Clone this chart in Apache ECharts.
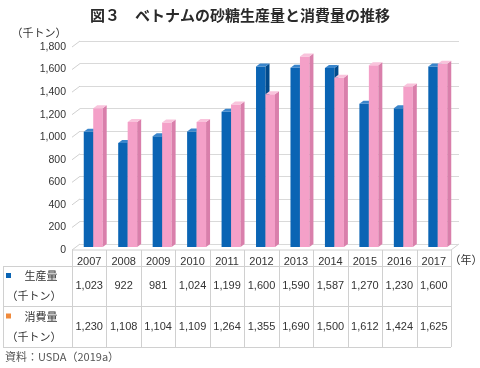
<!DOCTYPE html>
<html><head><meta charset="utf-8">
<script src="https://cdn.jsdelivr.net/npm/echarts@6/dist/echarts.min.js"></script>
<style>html,body{margin:0;padding:0;background:#fff}#c{width:480px;height:368px}</style>
</head><body><div id="c"></div>
<script>
const years = ['2007','2008','2009','2010','2011','2012','2013','2014','2015','2016','2017'];
const production = [1023, 922, 981, 1024, 1199, 1600, 1590, 1587, 1270, 1230, 1600];
const consumption = [1230, 1108, 1104, 1109, 1264, 1355, 1690, 1500, 1612, 1424, 1625];
const yMin = 0, yMax = 1800, yStep = 200;
const titleText = '図３　ベトナムの砂糖生産量と消費量の推移';
const unitText = '（千トン）';
const yearUnit = '（年）';
const rowNames = ['生産量', '消費量'];
const sourceText = '資料：USDA（2019a）';

const FONT = '"Liberation Sans", "Noto Sans CJK JP", sans-serif';
const JFONT = '"Noto Sans CJK JP", sans-serif';
const colors = [
  {front:'#0a64b4', top:'#3a86cc', side:'#004a8c'},
  {front:'#f4a0c8', top:'#f9c3dc', side:'#d97fab'}
];
const DX = 4, DY = -3;

function makeRender(side){
  return function(params, api){
    const i = api.value(0), v = api.value(1);
    const base = api.coord([i, 0]);
    const top = api.coord([i, v]);
    const bw = api.size([1, 0])[0] * 0.275;
    const x0 = side === 0 ? base[0] - bw : base[0];
    const c = colors[side];
    return {type:'group', children:[
      {type:'rect', shape:{x:x0, y:top[1], width:bw, height:base[1]-top[1]}, style:{fill:c.front}},
      {type:'polygon', shape:{points:[[x0+bw, top[1]],[x0+bw+DX, top[1]+DY],[x0+bw+DX, base[1]+DY],[x0+bw, base[1]]]}, style:{fill:c.side}},
      {type:'polygon', shape:{points:[[x0, top[1]],[x0+bw, top[1]],[x0+bw+DX, top[1]+DY],[x0+DX, top[1]+DY]]}, style:{fill:c.top}}
    ]};
  };
}

const chart = echarts.init(document.getElementById('c'), null, {renderer:'canvas'});
const gridH = 203, gridW = 379;
const yAxisBase = {type:'value', min:yMin, max:yMax, interval:yStep};
chart.setOption({
  animation:false,
  backgroundColor:'#fff',
  title:{text:titleText, left:'center', top:3, textStyle:{fontSize:15, fontWeight:'bold', color:'#2a2a2a', fontFamily:JFONT}},
  grid:[
    {left:72, top:47, width:gridW, height:gridH},
    {left:80, top:41, width:gridW, height:gridH},
    {left:76, top:44, width:gridW, height:gridH}
  ],
  xAxis:[
    {gridIndex:0, type:'category', data:years, axisLine:{show:false}, axisTick:{show:false},
     axisLabel:{margin:6, fontSize:11, color:'#333', fontFamily:FONT}},
    {gridIndex:1, type:'category', data:years, show:false},
    {gridIndex:2, type:'category', data:years, show:false}
  ],
  yAxis:[
    Object.assign({gridIndex:0, axisLine:{show:false}, axisTick:{show:false}, splitLine:{show:false},
      axisLabel:{fontSize:10.5, color:'#333', margin:6, fontFamily:FONT,
        formatter:v=>v.toLocaleString('en-US')}}, yAxisBase),
    Object.assign({gridIndex:1, axisLine:{show:false}, axisTick:{show:false}, axisLabel:{show:false},
      splitLine:{show:true, lineStyle:{color:'#d9d9d9', width:1}}}, yAxisBase),
    Object.assign({gridIndex:2, show:false}, yAxisBase)
  ],
  series:[
    {type:'custom', name:rowNames[0], xAxisIndex:2, yAxisIndex:2, renderItem:makeRender(0),
     data:production.map((v,i)=>[i,v]), encode:{x:0, y:1}},
    {type:'custom', name:rowNames[1], xAxisIndex:2, yAxisIndex:2, renderItem:makeRender(1),
     data:consumption.map((v,i)=>[i,v]), encode:{x:0, y:1}}
  ]
});

// Build 3D wall edges and data table from axis geometry
const g = [];
const lineC = '#d0d0d0';
const ticks = [];
for (let v = yMin; v <= yMax; v += yStep) ticks.push(v);
const xL0 = chart.convertToPixel({xAxisIndex:0}, 0);
const xL1 = chart.convertToPixel({xAxisIndex:0}, 1);
const step = xL1 - xL0;
const leftF = xL0 - step/2, rightF = leftF + step*years.length;
const leftB = chart.convertToPixel({xAxisIndex:1}, 0) - step/2;
const rightB = leftB + step*years.length;
ticks.forEach(v=>{
  const yf = chart.convertToPixel({yAxisIndex:0}, v);
  const yb = chart.convertToPixel({yAxisIndex:1}, v);
  g.push({type:'line', shape:{x1:leftF, y1:yf, x2:leftB, y2:yb}, style:{stroke:lineC, lineWidth:1}, z:-1});
});
const y0f = chart.convertToPixel({yAxisIndex:0}, 0);
const y0b = chart.convertToPixel({yAxisIndex:1}, 0);
g.push({type:'line', shape:{x1:rightF, y1:y0f, x2:rightB, y2:y0b}, style:{stroke:lineC}, z:-1});
g.push({type:'line', shape:{x1:leftF, y1:y0f, x2:rightF, y2:y0f}, style:{stroke:lineC}, z:-1});

// table
const tLeft = 3, rowTop = [266, 306, 347];
for (let k = 0; k <= years.length; k++) {
  const x = Math.round(leftF + k*step) + 0.5;
  g.push({type:'line', shape:{x1:x, y1:y0f, x2:x, y2:rowTop[2]}, style:{stroke:lineC}});
}
g.push({type:'line', shape:{x1:tLeft+0.5, y1:rowTop[0], x2:tLeft+0.5, y2:rowTop[2]}, style:{stroke:lineC}});
rowTop.forEach(y=>g.push({type:'line', shape:{x1:tLeft, y1:y+0.5, x2:rightF, y2:y+0.5}, style:{stroke:lineC}}));
const rows = [production, consumption];
const sq = ['#0a64b4', '#f08a3c'];
rows.forEach((arr, r)=>{
  const yc = (rowTop[r] + rowTop[r+1]) / 2;
  arr.forEach((v,i)=>{
    const xc = chart.convertToPixel({xAxisIndex:0}, i);
    g.push({type:'text', x:xc, y:yc, style:{text:v.toLocaleString('en-US'), align:'center', verticalAlign:'middle', fontSize:11, fill:'#333', font:'11px '+FONT}});
  });
  g.push({type:'rect', shape:{x:6, y:yc-13, width:5, height:5}, style:{fill:sq[r]}});
  g.push({type:'text', x:41, y:yc-10, style:{text:rowNames[r], align:'center', verticalAlign:'middle', fill:'#333', font:'11px '+JFONT}});
  g.push({type:'text', x:34, y:yc+10, style:{text:unitText, align:'center', verticalAlign:'middle', fill:'#333', font:'11px '+JFONT}});
});
g.push({type:'text', x:39, y:33, style:{text:unitText, align:'center', verticalAlign:'middle', fill:'#333', font:'11px '+JFONT}});
g.push({type:'text', x:466, y:260, style:{text:yearUnit, align:'center', verticalAlign:'middle', fill:'#333', font:'11px '+JFONT}});
g.push({type:'text', x:5, y:357, style:{text:sourceText, align:'left', verticalAlign:'middle', fill:'#555', font:'11px '+JFONT}});
chart.setOption({graphic:{elements:g}});
</script></body></html>
